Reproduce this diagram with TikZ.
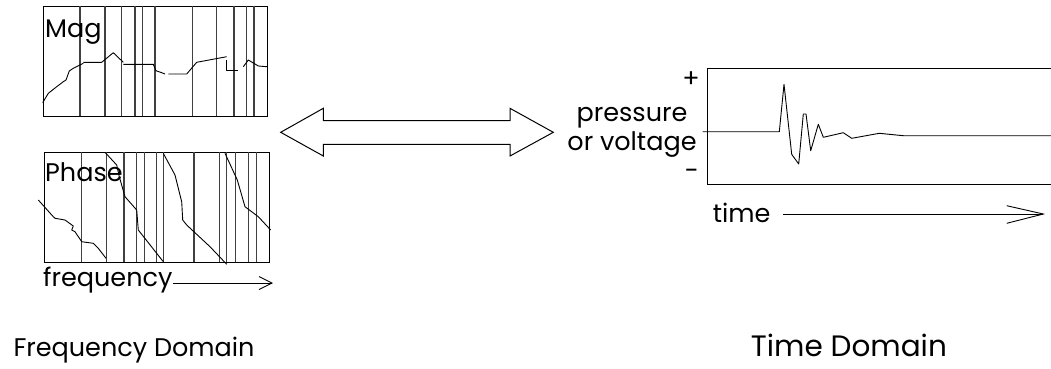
\documentclass[tikz,border=0pt]{standalone}
\usepackage{fontspec}
\setmainfont{Poppins}
\usetikzlibrary{arrows.meta}
\tikzset{
  frame/.style={draw=black, line width=1.1pt},
  grid/.style={draw=black!75, line width=1.3pt},
  trace/.style={draw=black, line width=0.9pt, line join=round},
  lbl/.style={inner sep=0pt, font=\fontsize{25.5}{28}\selectfont},
  bigf/.style={inner sep=0pt, font=\fontsize{25.5}{30}\selectfont},
  bigt/.style={inner sep=0pt, font=\fontsize{29.5}{32}\selectfont},
  axisarrow/.style={draw=black, line width=0.9pt, -{Straight Barb[length=13pt, width=13pt, line width=0.9pt]}},
}
\begin{document}
\begin{tikzpicture}[x=1pt,y=-1pt]
\useasboundingbox (0,0) rectangle (1051,368);
\clip (0,0) rectangle (1051,368);
% ---------- magnitude panel ----------
\node[frame, rectangle, minimum width=224.3pt, minimum height=110.6pt, inner sep=0pt, anchor=north west] (magbox) at (42.7,5.7) {};
\foreach \x in {80,105,121.7,135,142.3,155,192.3,216.7,234,246.7,254}
  \draw[grid] (\x,5.7) -- (\x,116.3);
\node[lbl, anchor=base west] (mag) at (45,37.3) {Mag};
\draw[trace] (42.7,102.7) -- (48.3,93.3) -- (56.7,86.7) -- (63.3,81.7) -- (66,80) -- (69.3,71) -- (73.3,68.3) -- (83.3,63.3);
\draw[trace] (83.3,62.3) -- (101.7,62.3) -- (113.3,52.7) -- (123.3,62.3);
\draw[trace] (123.3,64.3) -- (153.3,64.3) -- (156,70.7) -- (161.7,72.7) -- (165,74);
\draw[trace] (168.3,74) -- (186.7,74) -- (196.7,62.3) -- (226.7,56.7);
\draw[trace] (226.7,60) -- (226.7,70) -- (238.3,70);
\draw[trace] (243.3,66.7) -- (248.3,60) -- (258.3,66) -- (267,66.7);
% ---------- phase panel ----------
\node[frame, rectangle, minimum width=224.7pt, minimum height=110pt, inner sep=0pt, anchor=north west] (phasebox) at (44.3,152.3) {};
\foreach \x in {81.7,106.7,124,136.7,144.3,156.7,163.3,194,219.3,226.7,235.7,248.7,256.7}
  \draw[grid] (\x,152.3) -- (\x,262.3);
\node[lbl, anchor=base west] (phase) at (45,181.7) {Phase};
\draw[trace] (38.3,200) -- (53.3,216.7) -- (55,218.3) -- (65,220) -- (73.3,226) -- (71.7,230) -- (75,231.7) -- (81.7,241.7) -- (93.3,243.3) -- (98.3,248.3) -- (106,258.3);
\draw[trace] (105,152.3) -- (116.7,165) -- (119.3,176.7) -- (125,196.7) -- (136.7,210) -- (138.3,230) -- (163.3,261.7);
\draw[trace] (163.3,153.3) -- (175,175) -- (181.7,201.7) -- (182.7,220) -- (186.7,225) -- (210,246.7) -- (226.7,264.3);
\draw[trace] (225,153.3) -- (237.3,180) -- (245,206.7) -- (258.3,216.7) -- (270.7,230);
\node[lbl, anchor=base west] (freq) at (43,286.7) {frequency};
\coordinate (freqend) at (273,283);
\draw[axisarrow] (freq.east |- freqend) -- (freqend);
% ---------- double arrow ----------
\draw[line width=1pt, line join=miter]
  (280.7,132.3) -- (323.3,108.3) -- (323.3,120.7) -- (510,120.7) -- (510,108.3)
  -- (553.3,132.3) -- (510,156) -- (510,144.3) -- (323.3,144.3) -- (323.3,156) -- cycle;
% ---------- time panel ----------
\node[frame, rectangle, minimum width=360pt, minimum height=116pt, inner sep=0pt, anchor=north west] (timebox) at (706.7,68.3) {};
\draw[trace] (702.7,131.7) -- (779.3,131.7) -- (784,84.3) -- (791.7,154.3) -- (798.7,164) -- (803.3,114) -- (806,114) -- (810.7,150.7) -- (818.3,124.3) -- (823.3,137.3) -- (843.3,132.7) -- (851.7,138.3) -- (879.3,133.3) -- (903.3,135.7) -- (1060,135.7);
\node[lbl, anchor=center] (plus) at (691,80) {+};
\node[lbl, anchor=center] (minus) at (692,174.3) {-};
\node[lbl, anchor=base] (press) at (632,121.7) {pressure};
\node[lbl, anchor=base] (volt) at (632,150) {or voltage};
\node[lbl, anchor=base west] (time) at (712.7,222) {time};
\coordinate (timestart) at (782.7,214);
\coordinate (timeend) at (1043.3,214);
\draw[draw=black, line width=0.9pt] (timestart) -- (timeend);
\draw[draw=black, line width=0.9pt] (1006.7,205.7) -- (timeend) -- (1006.7,223.3);
% ---------- captions ----------
\node[bigf, anchor=base west] (fd) at (13.3,356.7) {Frequency Domain};
\node[bigt, anchor=base west] (td) at (750.7,356.7) {Time Domain};
\end{tikzpicture}
\end{document}
